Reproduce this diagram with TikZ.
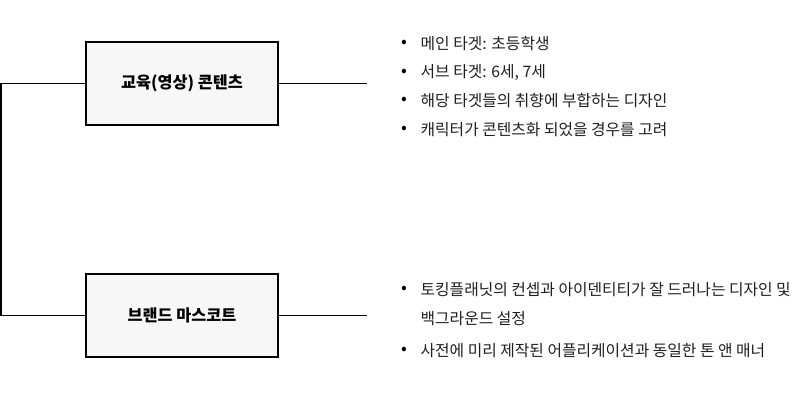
\documentclass[tikz,border=0pt]{standalone}
\usepackage{fontspec}
\setmainfont{Noto Sans CJK KR}
\usetikzlibrary{positioning}

\begin{document}
\begin{tikzpicture}[x=1pt, y=-1pt,
		topic/.style={
			draw,
			rectangle,
			fill=black!3,
			minimum width=192pt,
			minimum height=83pt,
			font=\fontsize{16.3}{18}\selectfont\bfseries
		},
		dot/.style={font=\fontsize{17}{18}\selectfont, inner sep=0},
		item/.style={anchor=west, font=\fontsize{15.8}{18}\selectfont, inner sep=0, text=black!88},
		line width=1.3pt]
		\useasboundingbox (0,0) rectangle (802,402);
		
		\node[topic] (edu) at (182,83.5) {교육(영상) 콘텐츠};
		\node[topic] (mascot) at (182,315.5) {브랜드 마스코트};
		
		\coordinate (eduend) at (367,83.5);
		\coordinate (mascotend) at (367,315.5);
		\coordinate (corner1) at (1,83.5);
		\coordinate (corner2) at (1,315.5);
		
		\draw (edu.east) -- (eduend);
		\draw (mascot.east) -- (mascotend);
		\draw (edu.west) -- (corner1) -- (corner2) -- (mascot.west);	% left bracket
		
		% first group
		\foreach \y/\txt [count=\i] in {44/메인 타겟: 초등학생, 72.5/{서브 타겟: 6세, 7세}, 101/해당 타겟들의 취향에 부합하는 디자인, 129.5/캐릭터가 콘텐츠화 되었을 경우를 고려}{
			\node[dot] (dotA\i) at (404,\y) {•};
			\node[item] (itemA\i) at (420,\y) {\txt};
		}
		
		% second group
		\node[dot] (dotB1) at (404,290) {•};
		\node[item] (itemB1) at (420,290) {토킹플래닛의 컨셉과 아이덴티티가 잘 드러나는 디자인 및};
		\node[item] (itemB2) at (420,319) {백그라운드 설정};
		\node[dot] (dotB3) at (404,351) {•};
		\node[item] (itemB3) at (420,351) {사전에 미리 제작된 어플리케이션과 동일한 톤 앤 매너};
	\end{tikzpicture}
\end{document}
